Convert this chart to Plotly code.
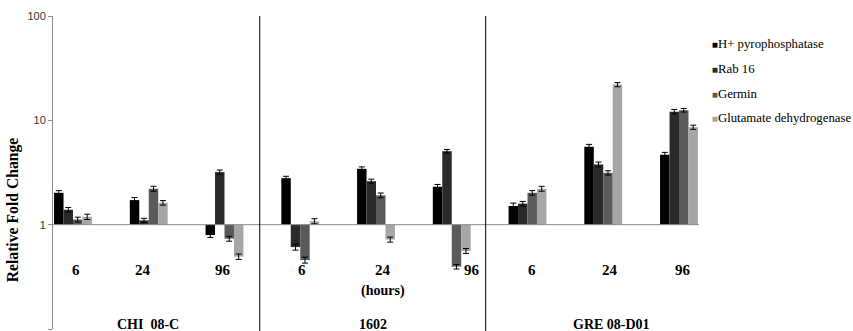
import plotly.graph_objects as go

# Data (fold change)
categories = ["CHI 6", "CHI 24", "CHI 96", "1602 6", "1602 24", "1602 96", "GRE 6", "GRE 24", "GRE 96"]
series_names = ["H+ pyrophosphatase", "Rab 16", "Germin", "Glutamate dehydrogenase"]
h_pyro = [2.02, 1.72, 0.795, 2.79, 3.43, 2.31, 1.51, 5.58, 4.68]
rab16 = [1.39, 1.10, 3.19, 0.61, 2.61, 5.06, 1.59, 3.78, 12.1]
germin = [1.12, 2.21, 0.734, 0.458, 1.91, 0.396, 2.02, 3.14, 12.5]
glut = [1.19, 1.62, 0.494, 1.08, 0.72, 0.56, 2.21, 22.0, 8.59]
h_pyro_err = [0.10, 0.10, 0.04, 0.12, 0.15, 0.12, 0.10, 0.30, 0.25]
rab16_err = [0.07, 0.05, 0.15, 0.04, 0.12, 0.20, 0.08, 0.20, 0.60]
germin_err = [0.06, 0.12, 0.04, 0.03, 0.10, 0.02, 0.10, 0.15, 0.50]
glut_err = [0.07, 0.08, 0.03, 0.06, 0.04, 0.03, 0.12, 1.00, 0.40]
colors = ["#000000", "#2a2a2a", "#5a5a5a", "#a6a6a6"]

time_labels = ["6", "24", "96", "6", "24", "96", "6", "24", "96"]
time_label_x = [0.04, 0.93, 1.98, 3.02, 4.09, 5.27, 6.055, 7.09, 8.05]
group_names = ["CHI  08-C", "1602", "GRE 08-D01"]
group_name_x = [0.986, 3.96, 7.115]
separator_x = [2.465, 5.448]

serif = "Liberation Serif"

fig = go.Figure()
xs = list(range(len(categories)))
for name, vals, errs, col in zip(series_names, [h_pyro, rab16, germin, glut],
                                 [h_pyro_err, rab16_err, germin_err, glut_err], colors):
    fig.add_trace(go.Bar(
        x=xs, y=[v - 1 for v in vals], base=1, name=name, showlegend=False,
        marker=dict(color=col, line=dict(width=0)),
        error_y=dict(type="data", array=errs, color="#000000", thickness=1, width=3),
    ))
# legend entries (Excel-style small square before the text)
for name, col in zip(series_names, colors):
    fig.add_trace(go.Scatter(
        x=[None], y=[None], mode="lines", line=dict(width=0, color="rgba(0,0,0,0)"),
        name=('<span style="font-family:\'Liberation Serif\'"><span style="color:%s;font-size:10px">'
              '\u25a0</span>%s</span>') % (col, name),
        legendgroup=name, showlegend=True,
    ))

annotations = []
for lab, x in zip(time_labels, time_label_x):
    annotations.append(dict(x=x, y=0.187, xref="x", yref="paper", text="<b>%s</b>" % lab,
                            xanchor="center", yanchor="middle",
                            showarrow=False, font=dict(family=serif, size=15, color="#000")))
annotations.append(dict(x=4.088, y=0.121, xref="x", yref="paper", text="<b>(hours)</b>",
                        xanchor="center", yanchor="middle",
                        showarrow=False, font=dict(family=serif, size=14, color="#000")))
for lab, x in zip(group_names, group_name_x):
    annotations.append(dict(x=x, y=0.0128, xref="x", yref="paper", text="<b>%s</b>" % lab,
                            xanchor="center", yanchor="middle",
                            showarrow=False, font=dict(family=serif, size=14, color="#000")))
annotations.append(dict(x=-0.0605, y=0.382, xref="paper", yref="paper", text="<b>Relative Fold Change</b>",
                        xanchor="center", yanchor="middle",
                        textangle=-90, showarrow=False, font=dict(family=serif, size=15.7, color="#000")))

shapes = [dict(type="line", xref="paper", yref="paper", x0=0, x1=1, y0=1/3, y1=1/3,
               line=dict(color="#8c8c8c", width=1))]
for sx in separator_x:
    shapes.append(dict(type="line", xref="x", yref="paper", x0=sx, x1=sx, y0=-0.02, y1=1.0,
                       line=dict(color="#000000", width=1)))

fig.update_layout(
    width=853, height=331,
    margin=dict(l=53, r=154, t=16, b=2, autoexpand=False),
    paper_bgcolor="white", plot_bgcolor="white",
    barmode="group", bargap=0.5, bargroupgap=0,
    showlegend=True,
    legend=dict(x=0.958, xanchor="left", y=0.960, yanchor="top",
                font=dict(family=serif, size=12.8, color="#000"),
                tracegroupgap=5, bgcolor="rgba(0,0,0,0)"),
    xaxis=dict(range=[-0.264, 8.264], visible=False),
    yaxis=dict(type="log", range=[-1, 2], tickmode="array",
               tickvals=[0.1, 1, 10, 100], ticktext=["0.1", "1", "10", "100"],
               showgrid=False, zeroline=False, showline=True, linecolor="#8c8c8c", linewidth=1,
               ticks="outside", ticklen=4, tickcolor="#8c8c8c",
               tickfont=dict(family="Liberation Sans", size=11, color="#333")),
    annotations=annotations, shapes=shapes,
)
fig.write_html("out.html", config={"displayModeBar": False},
               post_script="document.body.style.margin='0';document.body.style.overflow='hidden';")
